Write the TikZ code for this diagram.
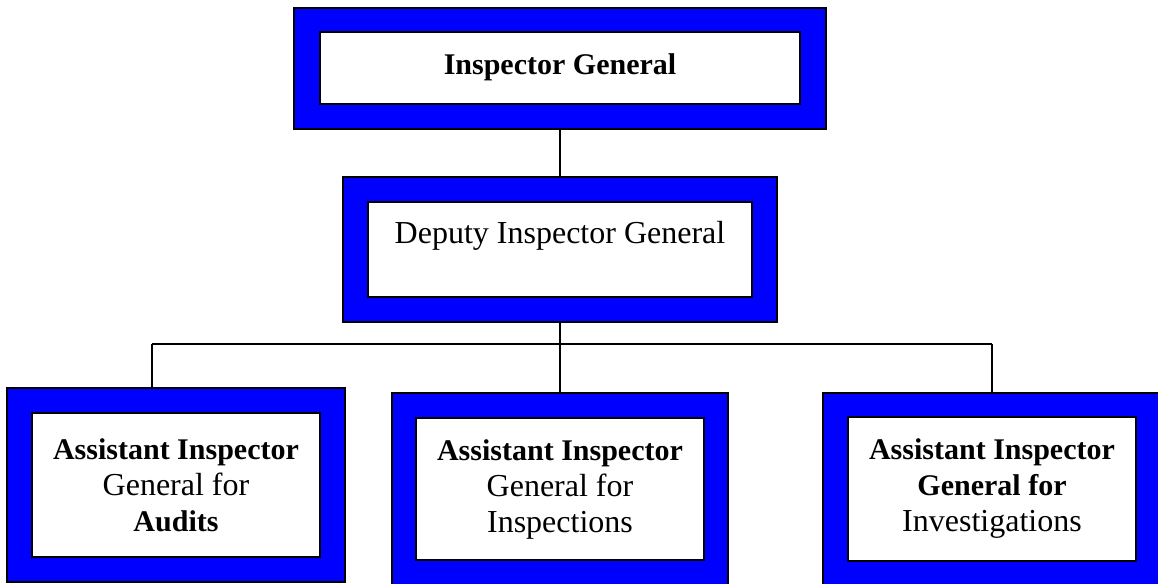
\documentclass[tikz,border=0pt]{standalone}
\usepackage{fontspec}
\setmainfont{Liberation Serif}
\newcommand{\heavy}{\fontsize{15}{18}\selectfont\bfseries}
\usetikzlibrary{positioning}

\begin{document}
\begin{tikzpicture}[x=0.5pt,y=-0.5pt,
  outerbox/.style={draw=black,line width=0.8pt,fill=blue,inner sep=0pt},
  innerbox/.style={draw=black,line width=0.8pt,fill=white,inner sep=0pt,
    align=center,font=\fontsize{16}{18}\selectfont},
  label/.style={inner sep=0pt,font=\fontsize{16}{18}\selectfont},
  link/.style={draw=black,line width=0.7pt}]
\useasboundingbox (0,0) rectangle (1158,584);
% top
\node[outerbox,minimum width=266pt,minimum height=60.5pt] (ig) at (560,68.5) {};
\node[innerbox,minimum width=240pt,minimum height=36pt] (igin) at (560,68) {};
\node[label,anchor=base] (igtxt) at (560,74) {\heavy Inspector General};
% deputy
\node[outerbox,minimum width=217pt,minimum height=72.5pt] (dig) at (560,249.5) {};
\node[innerbox,minimum width=192pt,minimum height=47.5pt] (digin) at (560,249.5) {};
\node[label,anchor=base] (digtxt) at (560,243) {Deputy Inspector General};
% assistants
\node[outerbox,minimum width=169pt,minimum height=97pt] (aa) at (176,485) {};
\node[innerbox,minimum width=144pt,minimum height=72pt] (aain) at (176,485)
  {{\heavy Assistant Inspector}\\General for\\{\heavy Audits}};
\node[outerbox,minimum width=168pt,minimum height=97pt] (ai) at (560,490) {};
\node[innerbox,minimum width=144pt,minimum height=71pt] (aiin) at (560,489)
  {{\heavy Assistant Inspector}\\General for\\Inspections};
\node[outerbox,minimum width=169pt,minimum height=97pt] (av) at (992,490) {};
\node[innerbox,minimum width=144pt,minimum height=72pt] (avin) at (992,489)
  {{\heavy Assistant Inspector}\\{\heavy General for}\\Investigations};
% connectors
\coordinate (hub) at (560,344);
\coordinate (lft) at (152,344);
\coordinate (rgt) at (992,344);
\draw[link] (ig.south) -- (dig.north);
\draw[link] (dig.south) -- (hub);
\draw[link] (lft) -- (rgt);
\draw[link] (lft) -- (lft |- aa.north);
\draw[link] (hub) -- (ai.north);
\draw[link] (rgt) -- (av.north);
\end{tikzpicture}
\end{document}
